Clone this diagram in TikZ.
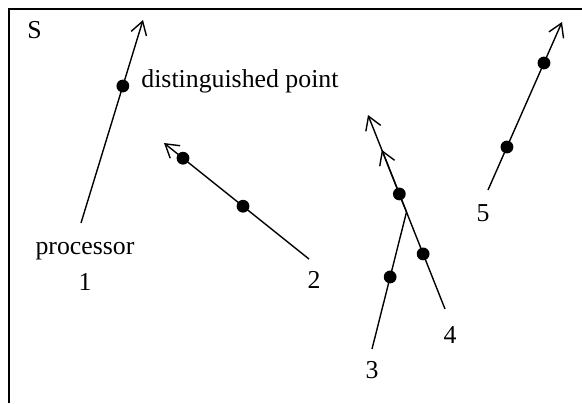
\documentclass[tikz,border=0pt]{standalone}
\usepackage{fontspec}
\setmainfont{Liberation Serif}
\usetikzlibrary{arrows.meta,calc}
\begin{document}
\begin{tikzpicture}[x=0.5pt,y=-0.5pt,
		track/.style={line width=0.7pt},
		arr/.style={track,-{Straight Barb[length=6.5pt,width=8pt]}},
		dot/.style={circle,fill,inner sep=0pt,minimum size=6.4pt},
		lbl/.style={anchor=base,inner sep=0pt,font=\fontsize{12.9}{15}\selectfont}]
		\useasboundingbox (0,0) rectangle (582,403);

		% Draw the frame of S
		\draw[track] (9,403) -- (9,9) -- (582,9);
		\node[lbl,anchor=base west] (s) at (27,38) {S};

		% Start and end of each processor path
		\coordinate (a1) at (81,223);  \coordinate (b1) at (143,20);
		\coordinate (a2) at (309,259); \coordinate (b2) at (164,143);
		\coordinate (a4) at (445,309); \coordinate (b4) at (368,115);
		\coordinate (a3) at (372,349);
		\coordinate (j3) at ($(a4)!0.5!(b4)$);  % where 3 joins 4
		\coordinate (b3) at ($(a4)!0.82!(b4)$);
		\coordinate (a5) at (488,190); \coordinate (b5) at (562,22);

		% Draw the processor paths
		\draw[arr] (a1) -- (b1);
		\draw[arr] (a2) -- (b2);
		\draw[arr] (a3) -- (j3) -- (b3);
		\draw[arr] (a4) -- (b4);
		\draw[arr] (a5) -- (b5);

		% Distinguished points
		\node[dot] (d1) at ($(a1)!0.675!(b1)$) {};
		\node[dot] (d2a) at ($(a2)!0.455!(b2)$) {};
		\node[dot] (d2b) at ($(a2)!0.869!(b2)$) {};
		\node[dot] (d3) at ($(a3)!0.526!(j3)$) {};
		\node[dot] (d4a) at ($(a4)!0.284!(b4)$) {};
		\node[dot] (d4b) at ($(a4)!0.593!(b4)$) {};
		\node[dot] (d5a) at ($(a5)!0.256!(b5)$) {};
		\node[dot] (d5b) at ($(a5)!0.756!(b5)$) {};

		% Labels
		\node[lbl,anchor=base west] (dp) at (141,87) {distinguished point};
		\node[lbl] (proc) at (85,254) {processor};
		\node[lbl] (n1) at (85,290) {1};
		\node[lbl] (n2) at (314,288) {2};
		\node[lbl] (n3) at (372,378) {3};
		\node[lbl] (n4) at (450,343) {4};
		\node[lbl] (n5) at (483,221) {5};
	\end{tikzpicture}
\end{document}
